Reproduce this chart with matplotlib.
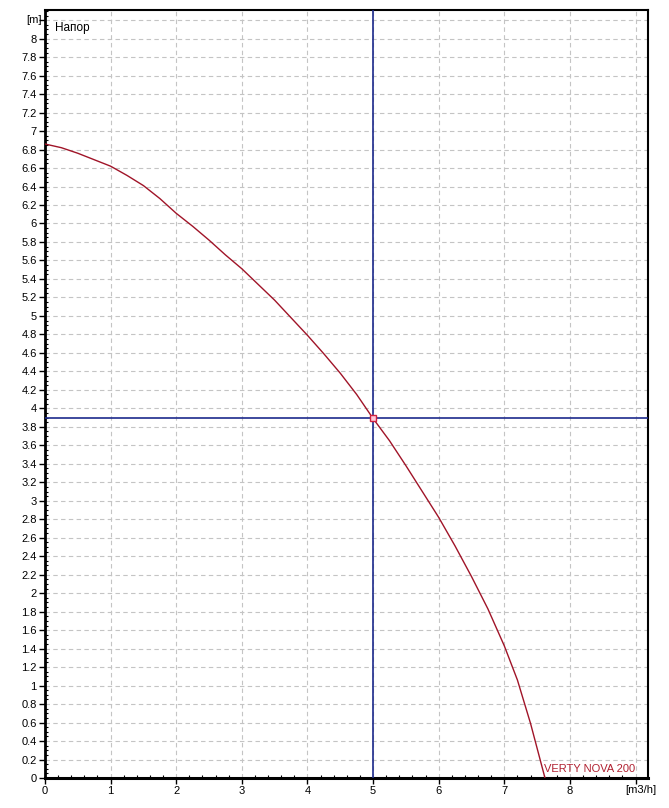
import numpy as np
import matplotlib
matplotlib.use("Agg")
import matplotlib.pyplot as plt
from matplotlib.ticker import MultipleLocator

# Data
flow = [0, 0.25, 0.5, 0.75, 1, 1.25, 1.5, 1.75, 2, 2.25, 2.5, 2.75, 3, 3.25, 3.5, 3.75,
        4, 4.25, 4.5, 4.75, 5, 5.25, 5.5, 5.75, 6, 6.25, 6.5, 6.75, 7, 7.2, 7.4, 7.62]
head = [6.86, 6.82, 6.76, 6.69, 6.62, 6.52, 6.41, 6.27, 6.11, 5.97, 5.82, 5.66, 5.51, 5.34, 5.17, 4.98,
        4.79, 4.59, 4.38, 4.15, 3.89, 3.65, 3.38, 3.10, 2.82, 2.51, 2.18, 1.83, 1.43, 1.06, 0.59, 0.0]
op_flow = 5.0
op_head = 3.89
pump_name = "VERTY NOVA 200"
y_ticks = [round(0.2 * i, 1) for i in range(0, 42)]
x_ticks = list(range(0, 10))

plt.rcParams['font.family'] = ['Liberation Sans', 'DejaVu Sans']

fig = plt.figure(figsize=(6.69, 8.08), dpi=100)
ax = fig.add_axes([45/669, 1-778/808, (648-45)/669, (778-10)/808])

ax.set_xlim(0, 9.19)
ax.set_ylim(0, 8.31)

ax.set_xticks(x_ticks)
ax.set_xticklabels([str(v) for v in x_ticks[:-1]] + [''])
ax.set_yticks(y_ticks)
ylabels = [('%g' % v) for v in y_ticks]
ylabels[-1] = ''
ax.set_yticklabels(ylabels)
ax.xaxis.set_minor_locator(MultipleLocator(0.2))
ax.yaxis.set_minor_locator(MultipleLocator(0.05))

ax.tick_params(which='major', direction='out', length=4, width=1, labelsize=8, colors='black', pad=2)
ax.tick_params(which='minor', direction='in', length=2, width=0.8)

ax.grid(True, which='major', color='#c4c4c4', linestyle=(0, (4, 3)), linewidth=0.8)
ax.set_axisbelow(True)

for s in ax.spines.values():
    s.set_color('black')
    s.set_linewidth(1.5)
ax.spines['bottom'].set_linewidth(2.2)
ax.spines['left'].set_linewidth(2.0)

ax.plot(flow, head, color='#a01428', linewidth=1.0, zorder=3, solid_joinstyle='round')
ax.axvline(op_flow, color='#1c2a8c', linewidth=1.2, zorder=4)
ax.axhline(op_head, color='#1c2a8c', linewidth=1.2, zorder=4)
ax.plot([op_flow], [op_head], marker='s', markersize=5, markerfacecolor='#ffc8d8',
        markeredgecolor='#d02040', markeredgewidth=1.0, zorder=5)

ax.text(0.15, 8.12, 'Напор', fontsize=8.5, ha='left', va='center')
ax.text(7.6, 0.04, pump_name, fontsize=8, color='#b02030', ha='left', va='bottom')
fig.text(42/669, 1-20/808, '[m]', fontsize=8, ha='right', va='center')
fig.text(641/669, 1-790/808, '[m3/h]', fontsize=8, ha='center', va='center')

fig.savefig('out.png', dpi=100, facecolor='white')
